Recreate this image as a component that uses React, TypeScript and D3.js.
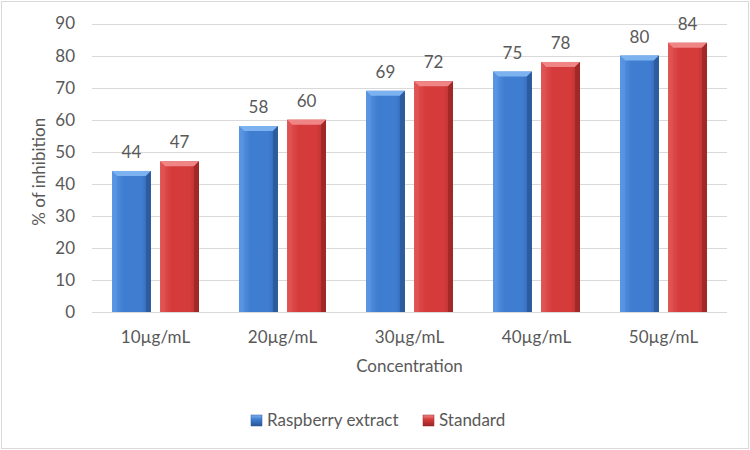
import React from "react";
import * as d3 from "d3";

const categories = ["10µg/mL", "20µg/mL", "30µg/mL", "40µg/mL", "50µg/mL"];
const seriesNames = ["Raspberry extract", "Standard"];
const raspberry = [44, 58, 69, 75, 80];
const standard = [47, 60, 72, 78, 84];
const yTicks = [0, 10, 20, 30, 40, 50, 60, 70, 80, 90];

const W = 750, H = 450;
const plot = { left: 92, right: 727, top: 23.5, bottom: 312 };
const FONT = "Lato, 'Open Sans', sans-serif";
const TXT = "#595959";
const FS = 17;

const palettes = [
  { mid: "#3f7dd1", light: "#5a96e3", top: "#7db2f0", dark: "#2a5796", side: "#3366b0" },
  { mid: "#d53b3b", light: "#e15555", top: "#ef8585", dark: "#992525", side: "#b32f2f" },
];

function Bar({ x, y, w, h, p, id }: any) {
  const b = Math.min(5, h / 2);
  const bottom = y + h;
  return (
    <g>
      <rect x={x} y={y} width={w} height={h} fill={`url(#g${id})`} />
      <polygon points={`${x},${y} ${x + w},${y} ${x + w - b},${y + b} ${x + b},${y + b}`} fill={p.top} />
      <polygon points={`${x},${y} ${x + b},${y + b} ${x + b},${bottom} ${x},${bottom}`} fill={p.light} opacity={0.6} />
      <polygon points={`${x + w},${y} ${x + w - b},${y + b} ${x + w - b},${bottom} ${x + w},${bottom}`} fill={p.dark} opacity={0.75} />
    </g>
  );
}

export default function App() {
  const x0 = d3.scaleBand().domain(categories).range([plot.left, plot.right]).paddingInner(0).paddingOuter(0);
  const groupW = 87;
  const x1 = d3.scaleBand().domain(seriesNames).range([0, groupW]).paddingInner(0.19);
  const y = d3.scaleLinear().domain([0, 90]).range([plot.bottom, plot.top]);
  const series = [raspberry, standard];

  return (
    <svg width={W} height={H} style={{ position: "absolute", left: 0, top: 0 }} fontFamily={FONT}>
      <defs>
        {palettes.map((p, i) => (
          <linearGradient key={i} id={`g${i}`} x1="0" x2="1" y1="0" y2="0">
            <stop offset="0" stopColor={p.light} />
            <stop offset="0.3" stopColor={p.mid} />
            <stop offset="0.75" stopColor={p.mid} />
            <stop offset="1" stopColor={p.side} />
          </linearGradient>
        ))}
        {palettes.map((p, i) => (
          <linearGradient key={"l" + i} id={`lg${i}`} x1="0" x2="0" y1="0" y2="1">
            <stop offset="0" stopColor={p.top} />
            <stop offset="0.4" stopColor={p.mid} />
            <stop offset="1" stopColor={p.dark} />
          </linearGradient>
        ))}
      </defs>
      <rect x={0} y={0} width={W} height={H} fill="#fff" />
      <rect x={1.5} y={1.5} width={W - 3} height={H - 3} fill="none" stroke="#d9d9d9" strokeWidth={1} />
      {yTicks.map((t) => (
        <g key={t}>
          <line x1={plot.left} x2={plot.right} y1={Math.round(y(t)) + 0.5} y2={Math.round(y(t)) + 0.5} stroke="#d9d9d9" strokeWidth={1} />
          <text x={75} y={y(t)} dy="0.35em" textAnchor="end" fontSize={FS} fill={TXT}>{t}</text>
        </g>
      ))}
      {categories.map((c, ci) => {
        const gx = (x0(c) as number) + (x0.bandwidth() - groupW) / 2;
        return (
          <g key={c}>
            {series.map((s, si) => {
              const bx = gx + (x1(seriesNames[si]) as number);
              const bw = x1.bandwidth();
              const by = y(s[ci]);
              return (
                <g key={si}>
                  <Bar x={bx} y={by} w={bw} h={plot.bottom - by} p={palettes[si]} id={si} />
                  <text x={bx + bw / 2} y={by - 13} textAnchor="middle" fontSize={FS} fill={TXT}>{s[ci]}</text>
                </g>
              );
            })}
            <text x={(x0(c) as number) + x0.bandwidth() / 2} y={343} textAnchor="middle" fontSize={FS} fill={TXT}>{c}</text>
          </g>
        );
      })}
      <text x={(plot.left + plot.right) / 2} y={372} textAnchor="middle" fontSize={FS} fill={TXT}>Concentration</text>
      <text transform={`translate(45,${(plot.top + plot.bottom) / 2 + 4}) rotate(-90)`} textAnchor="middle" fontSize={FS} fill={TXT}>% of inhibition</text>
      {seriesNames.map((n, i) => {
        const lx = [251, 423][i];
        return (
          <g key={n}>
            <rect x={lx} y={415} width={11} height={11} fill={`url(#lg${i})`} stroke={palettes[i].dark} strokeWidth={0.5} />
            <text x={lx + 16} y={426} fontSize={FS} fill={TXT}>{n}</text>
          </g>
        );
      })}
    </svg>
  );
}
